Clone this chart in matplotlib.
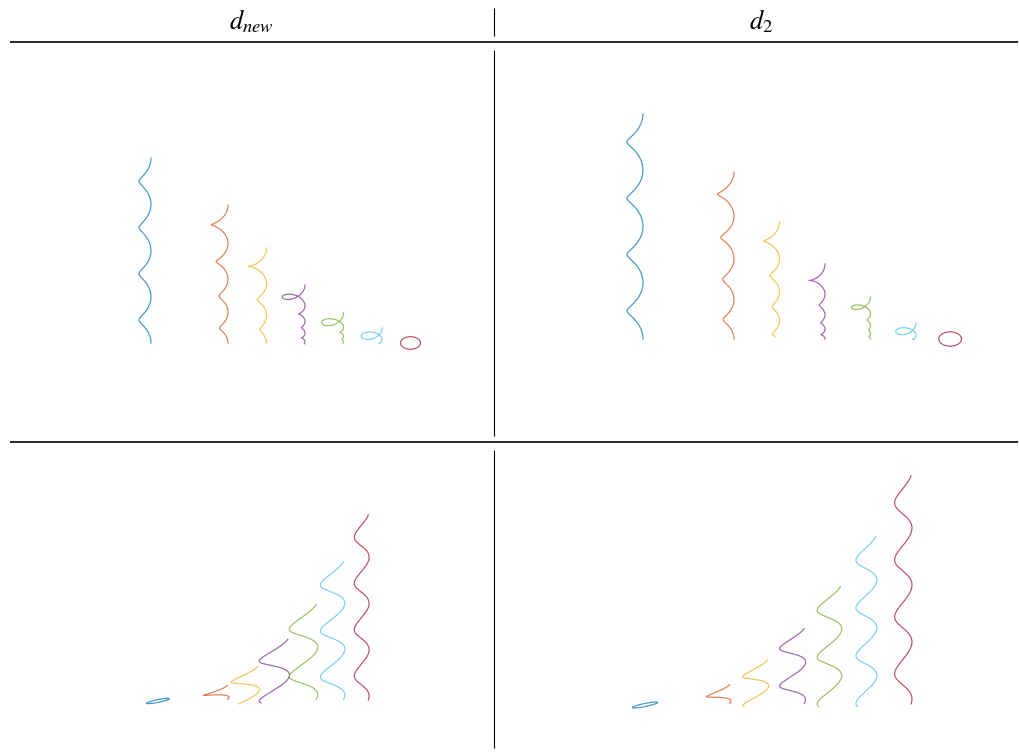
import numpy as np
import matplotlib.pyplot as plt

plt.rcParams['mathtext.fontset'] = 'stix'

W, H = 1019, 752

# one colour per trajectory (MATLAB default order)
colors = ['#0072BD', '#D95319', '#EDB120', '#7E2F8E', '#77AC30', '#4DBEEE', '#A2142F']
positions = [0, 2, 3, 4, 5, 6, 7]
titles = [r'$d_{new}$', r'$d_2$']

# top row: helices that wind down and collapse into a flat ring
top_height_new = [4.80, 3.58, 2.47, 1.51, 0.78, 0.39, 0.0]
top_turns_new = [4, 4, 3, 4.15, 3.2, 1.5, 1]
top_rise_decay_new = [0.0, 0.3, 0.38, 1.2, 1.5, 1.0, 0.0]
top_r_start_new = [0.156, 0.23, 0.26, 0.36, 0.37, 0.34, 0.26]
top_r_end_new = [0.156, 0.11, 0.08, 0.045, 0.02, 0.0, 0.26]
top_r_width_new = [1.0, 1.5, 1.2, 1.0, 0.9, 1.0, 1.0]

top_height_d2 = [4.95, 3.67, 2.57, 1.65, 0.92, 0.35, 0.0]
top_turns_d2 = [4, 4, 3.7, 4, 4, 1.5, 1]
top_rise_decay_d2 = [0.0, 0.15, 0.45, 1.5, 1.5, 1.0, 0.0]
top_r_start_d2 = [0.176, 0.19, 0.19, 0.21, 0.27, 0.28, 0.25]
top_r_end_d2 = [0.176, 0.12, 0.077, 0.045, 0.02, 0.0, 0.25]
top_r_width_d2 = [1.0, 1.5, 1.3, 1.0, 0.9, 1.0, 1.0]

# bottom row: flat ring growing into tall helices
bottom_height_new = [0.0, 0.48, 1.13, 2.06, 3.26, 4.74, 6.36]
bottom_height_d2 = [0.0, 0.51, 1.17, 2.03, 3.17, 4.53, 6.18]
bottom_radius_new = [0.40, 0.45, 0.50, 0.53, 0.50, 0.43, 0.26]
bottom_radius_d2 = [0.35, 0.34, 0.36, 0.36, 0.34, 0.29, 0.24]
bottom_turns_new = [1, 1, 1.25, 1.5, 2, 3, 4]
bottom_turns_d2 = [1, 1, 1.5, 2, 2.5, 3.5, 4]

TOP_TILT = 0.63     # vertical squash of a ring seen from above
BOT_TILT = 0.12     # nearly edge-on view
BOT_ROLL = 0.20     # roll of the edge-on view (rad)
BOT_PHASE = -0.5    # angle at the upper end of each bottom-row curve


def top_curve(pos, height, turns, lam_z, r0, r1, width, n=2000):
    # k counts turns from the upper end downwards
    k = np.linspace(0, turns, n)
    theta = -2 * np.pi * k
    r = r1 + (r0 - r1) * np.exp(-(k / width) ** 2)
    u = k / turns
    if lam_z > 0:
        frac = (1 - np.exp(-lam_z * u)) / (1 - np.exp(-lam_z))
    else:
        frac = u
    z = height * (1 - frac)
    x = pos + r * (np.cos(theta) - 1)
    y = z + TOP_TILT * r * np.sin(theta)
    return x, y


def bottom_curve(pos, height, radius, turns, n=2000):
    u = np.linspace(0, 1, n)
    theta = BOT_PHASE - 2 * np.pi * turns * (1 - u)
    a = radius * np.cos(theta)
    b = BOT_TILT * radius * np.sin(theta)
    dx = a * np.cos(BOT_ROLL) - b * np.sin(BOT_ROLL)
    dy = a * np.sin(BOT_ROLL) + b * np.cos(BOT_ROLL)
    return pos + dx, height * u + dy


def panel_axes(fig, box, origin, scale):
    x0, y0, x1, y1 = box
    ax = fig.add_axes([x0 / W, 1 - y1 / H, (x1 - x0) / W, (y1 - y0) / H])
    ax.set_xlim((x0 - origin[0]) / scale, (x1 - origin[0]) / scale)
    ax.set_ylim((origin[1] - y1) / scale, (origin[1] - y0) / scale)
    ax.axis('off')
    return ax


fig = plt.figure(figsize=(W / 100, H / 100), dpi=100)

# frame: title row and separators
bg = fig.add_axes([0, 0, 1, 1])
bg.set_xlim(0, W)
bg.set_ylim(H, 0)
bg.axis('off')
for yy in (42, 442):
    bg.plot([10, 1018], [yy, yy], color='#2b2b2b', lw=1.4, solid_capstyle='butt')
for ya, yb in ((8, 36), (50, 436), (450, 748)):
    bg.plot([494, 494], [ya, yb], color='black', lw=0.8, solid_capstyle='butt')
bg.text(251, 22, titles[0], fontsize=19, ha='center', va='center')
bg.text(761, 22, titles[1], fontsize=19, ha='center', va='center')

ax_tl = panel_axes(fig, (10, 50, 494, 436), (151, 343), 38.5)
ax_tr = panel_axes(fig, (494, 50, 1018, 436), (643, 339), 45.5)
ax_bl = panel_axes(fig, (10, 450, 494, 748), (158, 701), 29.1)
ax_br = panel_axes(fig, (494, 450, 1018, 748), (645, 705), 36.9)

top_sets = [
    (ax_tl, top_height_new, top_turns_new, top_rise_decay_new,
     top_r_start_new, top_r_end_new, top_r_width_new),
    (ax_tr, top_height_d2, top_turns_d2, top_rise_decay_d2,
     top_r_start_d2, top_r_end_d2, top_r_width_d2),
]
for ax, hts, turns, lam, r0, r1, wd in top_sets:
    for i in range(len(positions)):
        x, y = top_curve(positions[i], hts[i], turns[i], lam[i], r0[i], r1[i], wd[i])
        ax.plot(x, y, color=colors[i], lw=0.85, alpha=0.75)

bottom_sets = [
    (ax_bl, bottom_height_new, bottom_radius_new, bottom_turns_new),
    (ax_br, bottom_height_d2, bottom_radius_d2, bottom_turns_d2),
]
for ax, heights, radii, turns in bottom_sets:
    for i in range(len(positions)):
        x, y = bottom_curve(positions[i], heights[i], radii[i], turns[i])
        ax.plot(x, y, color=colors[i], lw=0.85, alpha=0.75)

fig.savefig('out.png', dpi=100)
